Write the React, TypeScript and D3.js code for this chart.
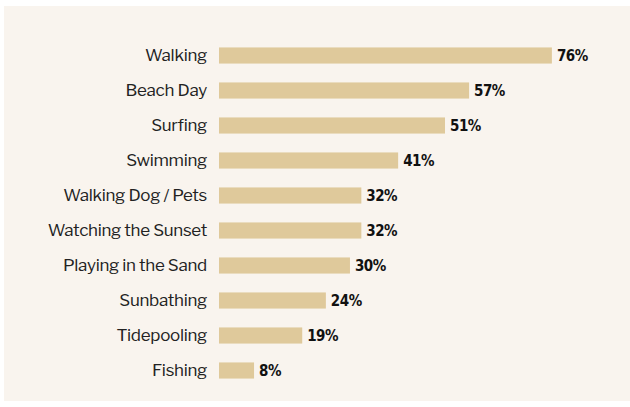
import React, { useEffect, useRef } from 'react';
import * as d3 from 'd3';

const activities = [
  'Walking',
  'Beach Day',
  'Surfing',
  'Swimming',
  'Walking Dog / Pets',
  'Watching the Sunset',
  'Playing in the Sand',
  'Sunbathing',
  'Tidepooling',
  'Fishing',
];
// bar lengths (labels are the published rounded values)
const shares = [76, 57.1, 51.6, 40.9, 32.5, 32.5, 29.9, 24.4, 19, 8];
const shareLabels = ['76%', '57%', '51%', '41%', '32%', '32%', '30%', '24%', '19%', '8%'];

const App = () => {
  const svgRef = useRef<SVGSVGElement | null>(null);

  useEffect(() => {
    const width = 630;
    const height = 407;
    const svg = d3.select(svgRef.current);
    svg.selectAll('*').remove();
    svg.attr('width', width).attr('height', height);

    // panel background
    svg.append('rect')
      .attr('x', 4)
      .attr('y', 6)
      .attr('width', 626)
      .attr('height', 395)
      .attr('fill', '#f9f4ee');

    const data = activities.map((name, i) => ({ name, value: shares[i], label: shareLabels[i] }));

    const x = d3.scaleLinear().domain([0, 100]).range([219, 657]);
    const y = d3.scaleBand<string>()
      .domain(activities)
      .range([38, 388])
      .paddingInner(0.54)
      .paddingOuter(0.27);

    const font = "'Libre Franklin', 'Inter', 'Noto Sans', sans-serif";
    const numFont = "'Liberation Sans Narrow', 'DejaVu Sans Condensed', 'Inter', sans-serif";

    const rows = svg.append('g')
      .selectAll('g')
      .data(data)
      .enter()
      .append('g');

    rows.append('rect')
      .attr('x', x(0))
      .attr('y', d => y(d.name)!)
      .attr('width', d => x(d.value) - x(0))
      .attr('height', y.bandwidth())
      .attr('fill', '#dfc99b');

    rows.append('text')
      .attr('x', x(0) - 12)
      .attr('y', d => y(d.name)! + y.bandwidth() / 2)
      .attr('dy', '0.3em')
      .attr('text-anchor', 'end')
      .style('font-family', font)
      .style('font-size', '17px')
      .style('letter-spacing', '-0.3px')
      .style('fill', '#222')
      .text(d => d.name);

    rows.append('text')
      .attr('x', d => x(d.value) + 5)
      .attr('y', d => y(d.name)! + y.bandwidth() / 2)
      .attr('dy', '0.34em')
      .style('font-family', numFont)
      .style('font-size', '15px')
      .style('font-weight', 'bold')
      .style('letter-spacing', '-0.5px')
      .style('fill', '#111')
      .text(d => d.label);
  }, []);

  return (
    <svg ref={svgRef} style={{ position: 'absolute', left: 0, top: 0 }}></svg>
  );
};

export default App;
